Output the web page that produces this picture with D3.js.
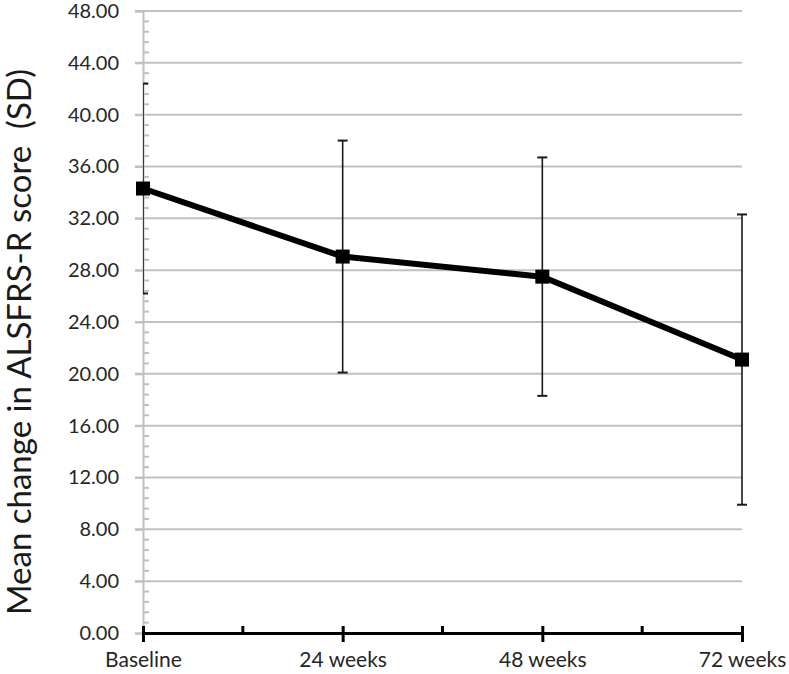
<!DOCTYPE html>
<html>
<head>
<meta charset="utf-8">
<script src="https://cdn.jsdelivr.net/npm/d3@7"></script>
<style>
  html, body { margin: 0; padding: 0; background: #fff; }
  svg { display: block; font-family: Lato, "Open Sans", sans-serif; }
</style>
</head>
<body>
<svg id="chart" width="789" height="674"></svg>
<script>
const categories = ["Baseline", "24 weeks", "48 weeks", "72 weeks"];
const means = [34.3, 29.05, 27.5, 21.1];
const sds = [8.1, 8.95, 9.2, 11.2];
const yTicks = [0, 4, 8, 12, 16, 20, 24, 28, 32, 36, 40, 44, 48];
const yTitle = "Mean change in ALSFRS-R score  (SD)";

const svg = d3.select("#chart");
const x = d3.scalePoint().domain(categories).range([143, 742]);
const y = d3.scaleLinear().domain([0, 48]).range([633, 11]);
const fmt = d3.format(".2f");

// gridlines
svg.append("g").selectAll("line").data(yTicks.filter(d => d > 0)).join("line")
  .attr("x1", 135).attr("x2", x.range()[1])
  .attr("y1", d => y(d)).attr("y2", d => y(d))
  .attr("stroke", "#c0c0c0").attr("stroke-width", 2);

// y axis
const yAxis = d3.axisLeft(y).tickValues(yTicks).tickFormat(fmt).tickSize(8).tickPadding(16);
const gy = svg.append("g").attr("transform", `translate(${x.range()[0]},0)`).call(yAxis);
gy.select(".domain").attr("stroke", "#c0c0c0").attr("stroke-width", 2);
gy.selectAll(".tick line").attr("stroke", "#c0c0c0").attr("stroke-width", 2);
gy.selectAll(".tick text").attr("font-size", 20).attr("fill", "#262626")
  .attr("font-family", "Lato, 'Open Sans', sans-serif");

// minor y ticks
const minor = d3.range(0, 48.001, 0.8).filter(v => Math.abs(v / 4 - Math.round(v / 4)) > 0.01);
svg.append("g").selectAll("line").data(minor).join("line")
  .attr("x1", x.range()[0]).attr("x2", x.range()[0] + 6)
  .attr("y1", d => y(d)).attr("y2", d => y(d))
  .attr("stroke", "#c0c0c0").attr("stroke-width", 2);

// error bars
svg.append("clipPath").attr("id", "clip").append("rect")
  .attr("x", x.range()[0]).attr("y", 0).attr("width", 700).attr("height", 674);
const eb = svg.append("g").attr("clip-path", "url(#clip)");
categories.forEach((c, i) => {
  const cx = x(c), hi = y(means[i] + sds[i]), lo = y(means[i] - sds[i]);
  eb.append("line").attr("x1", cx).attr("x2", cx).attr("y1", hi).attr("y2", lo)
    .attr("stroke", "#1a1a1a").attr("stroke-width", 1.6);
  [hi, lo].forEach(yy => eb.append("line").attr("x1", cx - 5).attr("x2", cx + 5)
    .attr("y1", yy).attr("y2", yy).attr("stroke", "#1a1a1a").attr("stroke-width", 2));
});

// x axis
const xAxis = d3.axisBottom(x).tickSize(0).tickPadding(19);
const gx = svg.append("g").attr("transform", `translate(0,${y(0)})`).call(xAxis);
gx.select(".domain").attr("stroke", "#000").attr("stroke-width", 3);
gx.selectAll(".tick text").attr("font-size", 21).attr("fill", "#262626")
  .attr("font-family", "Lato, 'Open Sans', sans-serif");
gx.selectAll(".tick").append("line").attr("y1", -7).attr("y2", 9)
  .attr("stroke", "#000").attr("stroke-width", 3);
const mids = d3.pairs(categories).map(([a, b]) => (x(a) + x(b)) / 2);
svg.append("g").selectAll("line").data(mids).join("line")
  .attr("x1", d => d).attr("x2", d => d).attr("y1", y(0) - 7).attr("y2", y(0))
  .attr("stroke", "#000").attr("stroke-width", 3);

// line
svg.append("path").datum(categories.map((c, i) => [x(c), y(means[i])]))
  .attr("d", d3.line()).attr("fill", "none").attr("stroke", "#000")
  .attr("stroke-width", 6).attr("stroke-linejoin", "round");

// markers
svg.append("g").selectAll("rect").data(categories).join("rect")
  .attr("x", c => x(c) - 7).attr("y", (c, i) => y(means[i]) - 7)
  .attr("width", 14).attr("height", 14).attr("fill", "#000");

// y title
svg.append("text")
  .attr("transform", `translate(31,342) rotate(-90)`)
  .attr("text-anchor", "middle").attr("font-size", 33).attr("fill", "#1a1a1a")
  .style("white-space", "pre")
  .text(yTitle);
</script>
</body>
</html>
